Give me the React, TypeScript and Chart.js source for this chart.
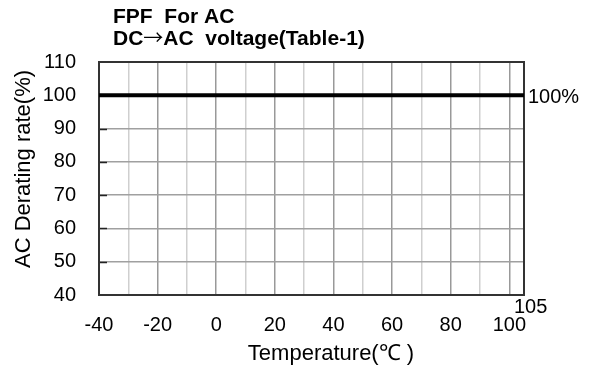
import React, { useEffect, useRef } from 'react';
import { Chart, registerables } from 'chart.js';

Chart.register(...registerables);

const temperatures = [-40, 105];
const deratingRates = [100, 100];
const xGridValues = [-40, -30, -20, -10, 0, 10, 20, 30, 40, 50, 60, 70, 80, 90, 100];
const xTickLabels = [-40, -20, 0, 20, 40, 60, 80, 100];
const yTickValues = [40, 50, 60, 70, 80, 90, 100, 110];
const yMarkValues = [50, 60, 70, 80, 90];
const titleLine1 = 'FPF  For AC';
const titleLine2Parts = ['DC', '→', 'AC  voltage(Table-1)'];
const xAxisTitle = 'Temperature(℃ )';
const yAxisTitle = 'AC Derating rate(%)';
const endLabel = '100%';
const maxTempLabel = '105';

const FONT = '"Liberation Sans", Arial, sans-serif';
const CJK = '"Noto Sans CJK JP", sans-serif';

const overlay = {
  id: 'overlay',
  beforeDatasetsDraw(chart: any) {
    const { ctx, chartArea } = chart;
    const { left, right, top, bottom } = chartArea;
    const y = chart.scales.y;
    ctx.save();
    ctx.strokeStyle = '#222';
    ctx.lineWidth = 1.5;
    yMarkValues.forEach((v) => {
      const py = Math.round(y.getPixelForValue(v)) + 0.5;
      ctx.beginPath();
      ctx.moveTo(left, py);
      ctx.lineTo(left + 8, py);
      ctx.stroke();
    });
    ctx.strokeStyle = '#333';
    ctx.lineWidth = 2;
    ctx.strokeRect(left, top, right - left, bottom - top);
    ctx.restore();
  },
  afterDraw(chart: any) {
    const { ctx, chartArea } = chart;
    const { right, bottom } = chartArea;
    const x = chart.scales.x;
    const y = chart.scales.y;
    ctx.save();
    ctx.fillStyle = '#000';
    // titles
    ctx.font = `bold 21px ${FONT}`;
    ctx.textAlign = 'left';
    ctx.textBaseline = 'alphabetic';
    ctx.fillText(titleLine1, 113, 23);
    let tx = 113;
    titleLine2Parts.forEach((part, i) => {
      ctx.font = i === 1 ? `20px ${CJK}` : `bold 21px ${FONT}`;
      ctx.fillText(part, tx, 45);
      tx += ctx.measureText(part).width;
    });
    // end labels
    ctx.font = `20px ${FONT}`;
    ctx.textBaseline = 'middle';
    ctx.fillText(endLabel, right + 4, y.getPixelForValue(deratingRates[1]) + 2);
    ctx.fillText(maxTempLabel, x.getPixelForValue(temperatures[1]) - 10, bottom + 12);
    // x title
    ctx.font = `22px ${FONT}`;
    ctx.textAlign = 'center';
    ctx.fillText(xAxisTitle, 331, 354);
    // y title
    ctx.translate(24, 169);
    ctx.rotate(-Math.PI / 2);
    ctx.fillText(yAxisTitle, 0, 0);
    ctx.restore();
  },
};

export default function App() {
  const ref = useRef<HTMLCanvasElement | null>(null);
  useEffect(() => {
    document.body.style.margin = '0';
    const canvas = ref.current;
    if (!canvas) return;
    const chart = new Chart(canvas, {
      type: 'line',
      data: {
        datasets: [
          {
            data: temperatures.map((t, i) => ({ x: t, y: deratingRates[i] })),
            borderColor: '#000',
            borderWidth: 4,
            pointRadius: 0,
            fill: false,
          },
        ],
      },
      options: {
        responsive: false,
        animation: false,
        layout: { padding: { top: 62, right: 74, left: 0, bottom: 0 } },
        plugins: { legend: { display: false }, tooltip: { enabled: false }, title: { display: false } },
        scales: {
          x: {
            type: 'linear',
            min: -40,
            max: 105,
            afterBuildTicks: (scale: any) => {
              scale.ticks = xGridValues.map((v) => ({ value: v }));
            },
            afterFit: (scale: any) => {
              scale.height = 76;
            },
            border: { display: false },
            grid: {
              drawTicks: false,
              color: (c: any) => (c.tick && c.tick.value % 20 === 0 ? '#999' : '#cfcfcf'),
              lineWidth: 1.5,
            },
            ticks: {
              autoSkip: false,
              maxRotation: 0,
              padding: 18,
              color: '#000',
              font: { family: FONT, size: 20 },
              callback: (v: any) => (xTickLabels.includes(Number(v)) ? String(v) : ''),
            },
          },
          y: {
            type: 'linear',
            min: 40,
            max: 110,
            afterBuildTicks: (scale: any) => {
              scale.ticks = yTickValues.map((v) => ({ value: v }));
            },
            afterFit: (scale: any) => {
              scale.width = 99;
            },
            border: { display: false },
            grid: { drawTicks: false, color: '#a0a0a0', lineWidth: 1.5 },
            ticks: {
              padding: 23,
              color: '#000',
              font: { family: FONT, size: 20 },
              callback: (v: any) => String(v),
            },
          },
        },
      },
      plugins: [overlay],
    } as any);
    return () => chart.destroy();
  }, []);
  return (
    <div style={{ position: 'absolute', left: 0, top: 0, width: 598, height: 371, background: '#fff' }}>
      <canvas ref={ref} width={598} height={371} style={{ width: 598, height: 371, display: 'block' }} />
    </div>
  );
}
